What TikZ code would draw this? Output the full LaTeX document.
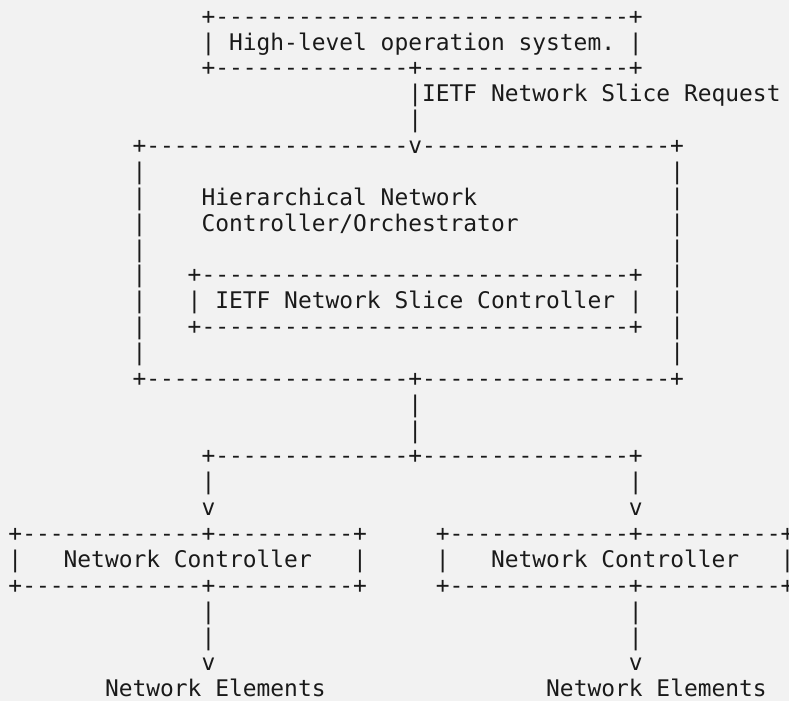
\documentclass[tikz,border=0pt]{standalone}
\usepackage{fontspec}
\setmonofont{DejaVu Sans Mono}
\definecolor{bgcol}{HTML}{F2F2F2}
\definecolor{ink}{HTML}{1A1A1A}
\newcommand{\dashes}[1]{\foreach \d in {1,...,#1}{-}}
\tikzset{
    ascii/.style = {anchor = base west, inner sep = 0pt, outer sep = 0pt, text = ink,
        font = \ttfamily\fontsize{22.9pt}{25.9pt}\selectfont}
}
\begin{document}
\begin{tikzpicture}[x = 13.787pt, y = -25.87pt]
    \fill[bgcol] (-8.5pt,-1.67pt) rectangle (780.5pt,-702.67pt);
    \useasboundingbox (-8.5pt,-1.67pt) rectangle (780.5pt,-702.67pt);
    % operation system
    \node[ascii] (ops1) at (14,1) {+\dashes{30}+};
    \node[ascii] (ops2) at (14,2) {|~High-level~operation~system.~|};
    \node[ascii] (ops3) at (14,3) {+\dashes{14}+\dashes{15}+};
    \node[ascii] (req1) at (29,4) {|IETF~Network~Slice~Request};
    \node[ascii] (req2) at (29,5) {|};
    % hierarchical controller
    \node[ascii] (hier1) at (9,6) {+\dashes{19}v\dashes{18}+};
    \foreach \r in {7,...,14} {
        \node[ascii] (hierl\r) at (9,\r) {|};
        \node[ascii] (hierr\r) at (48,\r) {|};
    }
    \node[ascii] (hiert1) at (14,8) {Hierarchical~Network};
    \node[ascii] (hiert2) at (14,9) {Controller/Orchestrator};
    \node[ascii] (nsc1) at (13,11) {+\dashes{31}+};
    \node[ascii] (nsc2) at (13,12) {|~IETF~Network~Slice~Controller~|};
    \node[ascii] (nsc3) at (13,13) {+\dashes{31}+};
    \node[ascii] (hier2) at (9,15) {+\dashes{19}+\dashes{18}+};
    \node[ascii] (down1) at (29,16) {|};
    \node[ascii] (down2) at (29,17) {|};
    \node[ascii] (split) at (14,18) {+\dashes{14}+\dashes{15}+};
    % network controllers
    \foreach \c/\s in {14/a, 45/b} {
        \node[ascii] (in1\s) at (\c,19) {|};
        \node[ascii] (in2\s) at (\c,20) {v};
        \node[ascii] (out1\s) at (\c,24) {|};
        \node[ascii] (out2\s) at (\c,25) {|};
        \node[ascii] (out3\s) at (\c,26) {v};
    }
    \foreach \c/\s in {0/a, 31/b} {
        \node[ascii] (nc1\s) at (\c,21) {+\dashes{13}+\dashes{10}+};
        \node[ascii] (nc2\s) at (\c,22) {|~~~Network~Controller~~~|};
        \node[ascii] (nc3\s) at (\c,23) {+\dashes{13}+\dashes{10}+};
    }
    \node[ascii] (nea) at (7,27) {Network~Elements};
    \node[ascii] (neb) at (39,27) {Network~Elements};
\end{tikzpicture}
\end{document}
